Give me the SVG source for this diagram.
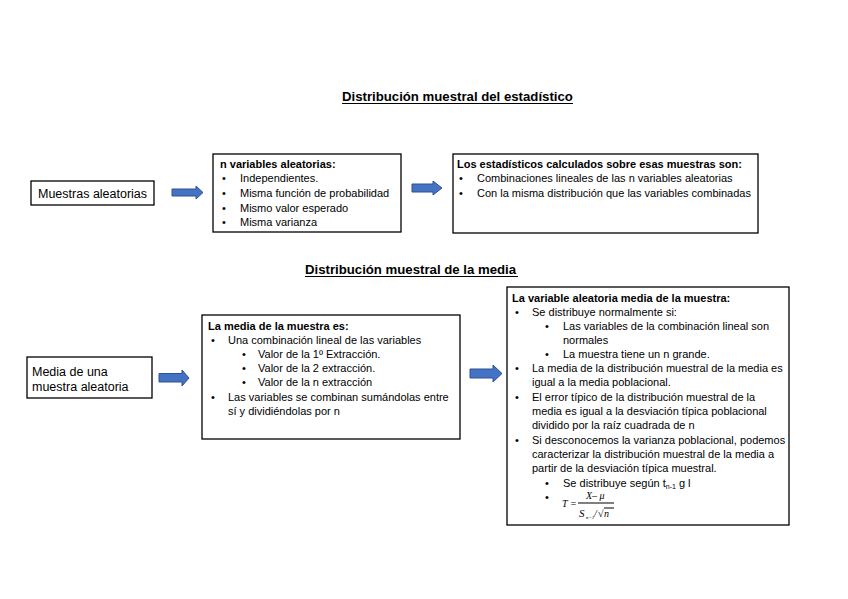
<svg xmlns="http://www.w3.org/2000/svg" width="848" height="599" viewBox="0 0 848 599">
<style>
.bg{fill:#fff}
.box{fill:#fff;stroke:#000;stroke-width:1.3}
.t{font-family:"Liberation Sans",Arial,sans-serif;font-size:11px;fill:#000}
.b{font-weight:bold}
.big{font-size:12.5px}
.title{font-family:"Liberation Sans",Arial,sans-serif;font-size:13.2px;font-weight:bold;fill:#000}
.ul{stroke:#000;stroke-width:1}
.arrow{fill:#4472C4;stroke:#2F528F;stroke-width:1}
.m{font-family:"Liberation Serif","Times New Roman",serif;font-style:italic;fill:#000}
</style>
<rect class="bg" x="0" y="0" width="848" height="599"/>

<g id="title1">
<text class="title" x="342" y="101">Distribución muestral del estadístico</text>
<line class="ul" x1="342" y1="103.5" x2="573" y2="103.5"/>
</g>
<g id="title2">
<text class="title" x="305" y="274">Distribución muestral de la media</text>
<line class="ul" x1="305" y1="276.5" x2="518" y2="276.5"/>
</g>

<g id="connectors">
<path class="arrow" d="M172,189 L196,189 L196,186 L203,192.5 L196,199 L196,196 L172,196 Z"/>
<path class="arrow" d="M412,184 L433,184 L433,181 L442,188 L433,195 L433,192 L412,192 Z"/>
<path class="arrow" d="M159,373.5 L182,373.5 L182,370 L189,378 L182,386 L182,382 L159,382 Z"/>
<path class="arrow" d="M470,369 L493,369 L493,365 L502,373.5 L493,382 L493,378 L470,378 Z"/>
</g>

<g id="node-muestras">
<rect class="box" x="31" y="181" width="123" height="24"/>
<text class="t big" x="38" y="198">Muestras aleatorias</text>
</g>

<g id="node-variables">
<rect class="box" x="213" y="154" width="188" height="78"/>
<text class="t b" x="220" y="168">n variables aleatorias:</text>
<text class="t" x="222" y="182">•</text><text class="t" x="240" y="182">Independientes.</text>
<text class="t" x="222" y="197">•</text><text class="t" x="240" y="197">Misma función de probabilidad</text>
<text class="t" x="222" y="212">•</text><text class="t" x="240" y="212">Mismo valor esperado</text>
<text class="t" x="222" y="226">•</text><text class="t" x="240" y="226">Misma varianza</text>
</g>

<g id="node-estadisticos">
<rect class="box" x="453" y="154" width="305" height="79"/>
<text class="t b" x="457" y="168">Los estadísticos calculados sobre esas muestras son:</text>
<text class="t" x="459" y="182">•</text><text class="t" x="477" y="182">Combinaciones lineales de las n variables aleatorias</text>
<text class="t" x="459" y="197">•</text><text class="t" x="477" y="197">Con la misma distribución que las variables combinadas</text>
</g>

<g id="node-media">
<rect class="box" x="27" y="357" width="125" height="41"/>
<text class="t big" x="32" y="376">Media de una</text>
<text class="t big" x="32" y="391">muestra aleatoria</text>
</g>

<g id="node-combinacion">
<rect class="box" x="202" y="315" width="258" height="124"/>
<text class="t b" x="208" y="330">La media de la muestra es:</text>
<text class="t" x="211" y="344">•</text><text class="t" x="228" y="344">Una combinación lineal de las variables</text>
<text class="t" x="242" y="358">•</text><text class="t" x="258" y="358">Valor de la 1º Extracción.</text>
<text class="t" x="242" y="372">•</text><text class="t" x="258" y="372">Valor de la 2 extracción.</text>
<text class="t" x="242" y="386">•</text><text class="t" x="258" y="386">Valor de la n extracción</text>
<text class="t" x="211" y="401">•</text><text class="t" x="228" y="401">Las variables se combinan sumándolas entre</text>
<text class="t" x="228" y="415">sí y dividiéndolas por n</text>
</g>

<g id="node-variable-media">
<rect class="box" x="507" y="287" width="282" height="238"/>
<text class="t b" x="512" y="302">La variable aleatoria media de la muestra:</text>
<text class="t" x="515" y="316">•</text><text class="t" x="532" y="316">Se distribuye normalmente si:</text>
<text class="t" x="545" y="330">•</text><text class="t" x="563" y="330">Las variables de la combinación lineal son</text>
<text class="t" x="563" y="344">normales</text>
<text class="t" x="545" y="358">•</text><text class="t" x="563" y="358">La muestra tiene un n grande.</text>
<text class="t" x="515" y="372">•</text><text class="t" x="532" y="372">La media de la distribución muestral de la media es</text>
<text class="t" x="532" y="386">igual a la media poblacional.</text>
<text class="t" x="515" y="401">•</text><text class="t" x="532" y="401">El error típico de la distribución muestral de la</text>
<text class="t" x="532" y="415">media es igual a la desviación típica poblacional</text>
<text class="t" x="532" y="429">dividido por la raíz cuadrada de n</text>
<text class="t" x="515" y="444">•</text><text class="t" x="532" y="444">Si desconocemos la varianza poblacional, podemos</text>
<text class="t" x="532" y="458">caracterizar la distribución muestral de la media a</text>
<text class="t" x="532" y="472">partir de la desviación típica muestral.</text>
<text class="t" x="545" y="487">•</text><text class="t" x="563" y="487">Se distribuye según t<tspan font-size="7" dy="2">n-1</tspan><tspan dy="-2"> g l</tspan></text>
<text class="t" x="545" y="501">•</text>
<text class="m" x="562" y="507" font-size="10">T</text>
<text class="m" x="570" y="507" font-size="10" font-style="normal">=</text>
<text class="m" x="586" y="499" font-size="10">X– μ</text>
<line class="ul" x1="578" y1="503" x2="614" y2="503" stroke-width="0.8"/>
<text class="m" x="579" y="517" font-size="11">S</text>
<text class="m" x="586" y="519" font-size="5">n−1</text>
<text class="m" x="594" y="517" font-size="10" font-style="normal">/</text>
<text class="m" x="598" y="517" font-size="10" font-style="normal">√</text>
<line class="ul" x1="604" y1="508" x2="614" y2="508" stroke-width="0.7"/>
<text class="m" x="604" y="517" font-size="10">n</text>
</g>
</svg>
